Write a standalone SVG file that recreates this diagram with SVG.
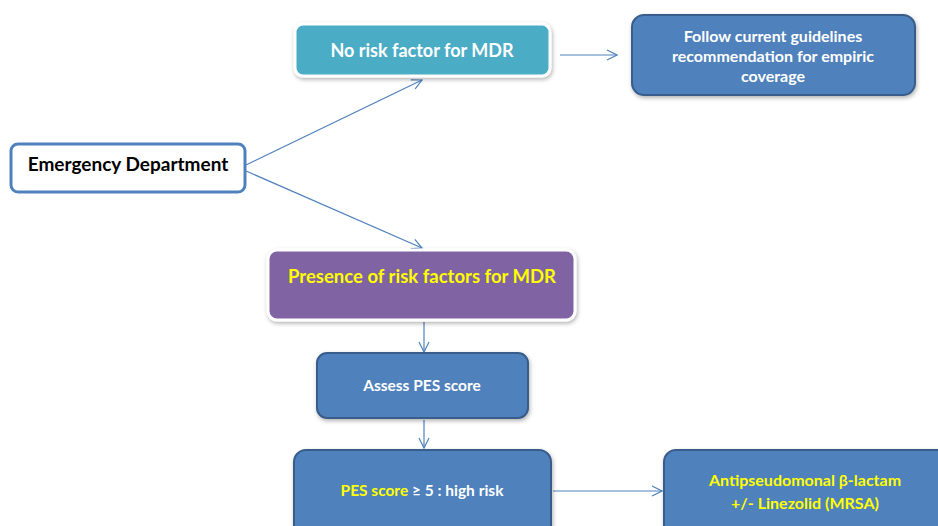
<svg xmlns="http://www.w3.org/2000/svg" width="938" height="526" viewBox="0 0 938 526">
<defs>
<filter id="sh" x="-10%" y="-20%" width="120%" height="150%">
<feDropShadow dx="1" dy="2" stdDeviation="2" flood-color="#000" flood-opacity="0.3"/>
</filter>
<marker id="ah" viewBox="0 0 12 12" refX="11" refY="6" markerWidth="12" markerHeight="12" markerUnits="userSpaceOnUse" orient="auto">
<path d="M1,1 L11,6 L1,11" fill="none" stroke="#4F81BD" stroke-width="1.2"/>
</marker>
</defs>
<style>
text{font-family:Lato,"Liberation Sans",sans-serif;font-weight:bold;text-anchor:middle}
.w{fill:#fff}
.y{fill:#FFFF00}
.blue{fill:#4F81BD;stroke:#385D8A;stroke-width:2}
.conn line{stroke:#4F81BD;stroke-width:1.2;fill:none;marker-end:url(#ah)}
</style>
<rect width="938" height="526" fill="#fff"/>
<g class="conn">
<line x1="246" y1="165" x2="422" y2="80"/>
<line x1="246" y1="171" x2="422" y2="248"/>
<line x1="560" y1="55" x2="617" y2="55"/>
<line x1="424" y1="322" x2="424" y2="352"/>
<line x1="424" y1="420" x2="424" y2="448"/>
<line x1="553" y1="491" x2="662" y2="491"/>
</g>
<g id="no-risk">
<rect x="295" y="24" width="255" height="52" rx="8" fill="#4BACC6" stroke="#fff" stroke-width="3" filter="url(#sh)"/>
<text x="422" y="57" font-size="18" class="w">No risk factor for MDR</text>
</g>
<g id="guidelines">
<rect x="632" y="15" width="283" height="80" rx="12" class="blue" filter="url(#sh)"/>
<text x="773" y="42" font-size="16" class="w">Follow current guidelines</text>
<text x="773" y="62" font-size="16" class="w">recommendation for empiric</text>
<text x="773" y="82" font-size="16" class="w">coverage</text>
</g>
<g id="ed">
<rect x="11" y="144" width="234" height="48" rx="7" fill="#fff" stroke="#4F81BD" stroke-width="3"/>
<text x="128" y="171" font-size="19" fill="#000">Emergency Department</text>
</g>
<g id="presence">
<rect x="268" y="250" width="307" height="70" rx="9" fill="#8064A2" stroke="#fff" stroke-width="3" filter="url(#sh)"/>
<text x="422" y="283" font-size="18.5" class="y">Presence of risk factors for MDR</text>
</g>
<g id="assess">
<rect x="317" y="353" width="211" height="65" rx="10" class="blue" filter="url(#sh)"/>
<text x="422" y="391" font-size="15.5" class="w">Assess PES score</text>
</g>
<g id="pes">
<rect x="294" y="450" width="257" height="90" rx="12" class="blue" filter="url(#sh)"/>
<text x="422" y="496" font-size="15.5" class="w"><tspan class="y">PES score</tspan> ≥ 5 : high risk</text>
</g>
<g id="antip">
<rect x="664" y="450" width="290" height="90" rx="12" class="blue" filter="url(#sh)"/>
<text x="805" y="486" font-size="16" class="y">Antipseudomonal β-lactam</text>
<text x="805" y="509" font-size="16" class="y">+/- Linezolid (MRSA)</text>
</g>
</svg>
